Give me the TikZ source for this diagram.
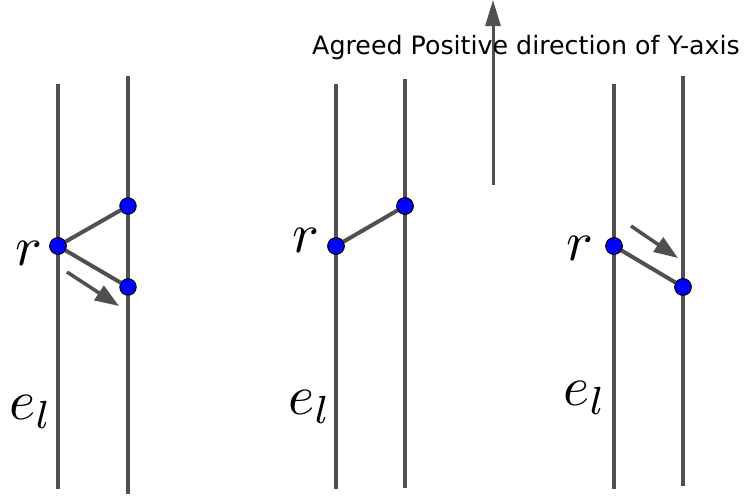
\documentclass[tikz,border=0pt]{standalone}
\usepackage{fontspec}
\setsansfont{DejaVu Sans}
\usetikzlibrary{arrows.meta}
\definecolor{lg}{HTML}{505050}
\tikzset{
  rail/.style={draw=lg,line width=4pt},
  link/.style={draw=lg,line width=4pt},
  pt/.style={circle,fill=blue,draw=black,line width=0.9pt,minimum size=16.5pt,inner sep=0pt},
  mv/.style={draw=lg,line width=3.5pt,-{Triangle[length=24pt,width=17pt]}},
  lab/.style={inner sep=0pt},
}
\newcommand{\hugemath}[1]{\scalebox{5.6}{$#1$}}
\begin{document}
\begin{tikzpicture}[x=1pt,y=-1pt]
\useasboundingbox (0,0) rectangle (744,498);
% axis arrow
\coordinate (ys) at (493,185); \coordinate (ye) at (493,0);
\draw[draw=lg,line width=3pt,-{Triangle[length=26pt,width=15pt]}] (ys) -- (ye);
\node[font=\sffamily\fontsize{25.3}{25.3}\selectfont,inner sep=0pt,anchor=base west] (txt) at (312,54) {Agreed Positive direction of Y-axis};
% panel 1
\coordinate (a1t) at (58,84); \coordinate (a1b) at (58,489);
\coordinate (b1t) at (128,76); \coordinate (b1b) at (128,494);
\draw[rail] (a1t) -- (a1b);
\draw[rail] (b1t) -- (b1b);
\node[pt] (r1) at (58,246) {};
\node[pt] (u1) at (128,206) {};
\node[pt] (d1) at (128,287) {};
\draw[link] (r1) -- (u1);
\draw[link] (r1) -- (d1);
\node[pt] at (58,246) {};
\coordinate (m1s) at (67,272); \coordinate (m1e) at (119,306);
\draw[mv] (m1s) -- (m1e);
\node[lab] (rl1) at (29,253) {\hugemath{r}};
\node[lab] (el1) at (31,412) {\hugemath{e_l}};
% panel 2
\coordinate (a2t) at (336,84); \coordinate (a2b) at (336,489);
\coordinate (b2t) at (405,79); \coordinate (b2b) at (405,488);
\draw[rail] (a2t) -- (a2b);
\draw[rail] (b2t) -- (b2b);
\node[pt] (r2) at (336,246) {};
\node[pt] (u2) at (405,206) {};
\draw[link] (r2) -- (u2);
\node[pt] at (336,246) {};
\node[pt] at (405,206) {};
\node[lab] (rl2) at (306,240) {\hugemath{r}};
\node[lab] (el2) at (310,407) {\hugemath{e_l}};
% panel 3
\coordinate (a3t) at (614,84); \coordinate (a3b) at (614,489);
\coordinate (b3t) at (683,76); \coordinate (b3b) at (683,486);
\draw[rail] (a3t) -- (a3b);
\draw[rail] (b3t) -- (b3b);
\node[pt] (r3) at (614,246) {};
\node[pt] (d3) at (683,287) {};
\draw[link] (r3) -- (d3);
\node[pt] at (614,246) {};
\node[pt] at (683,287) {};
\coordinate (m3s) at (631,226); \coordinate (m3e) at (678,258);
\draw[mv] (m3s) -- (m3e);
\node[lab] (rl3) at (580,248) {\hugemath{r}};
\node[lab] (el3) at (585,398) {\hugemath{e_l}};
\end{tikzpicture}
\end{document}
